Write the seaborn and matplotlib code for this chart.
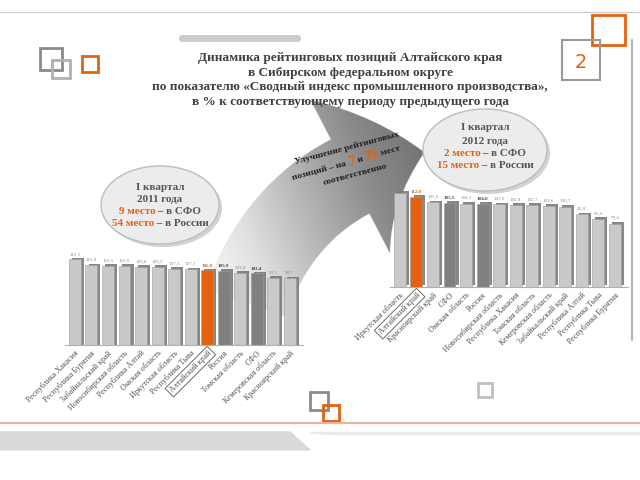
import numpy as np
import pandas as pd
import seaborn as sns
import matplotlib.pyplot as plt
from matplotlib.patches import Rectangle, Ellipse, FancyArrowPatch, FancyBboxPatch
from matplotlib.colors import LinearSegmentedColormap
import matplotlib.patheffects as pe

sns.set_style('white')
plt.rcParams['font.family'] = ['Liberation Serif', 'DejaVu Serif']

###############################################################################
# data
###############################################################################
left_regions = ['Республика Хакасия', 'Республика Бурятия', 'Забайкальский край',
                'Новосибирская область', 'Республика Алтай', 'Омская область',
                'Иркутская область', 'Республика Тыва', 'Алтайский край', 'Россия',
                'Томская область', 'СФО', 'Кемеровская область', 'Красноярский край']
left_values = [116.3, 110.9, 110.5, 110.0, 109.6, 109.2, 107.3, 107.1,
               106.0, 105.9, 103.9, 103.4, 99.2, 98.7]

right_regions = ['Иркутская область', 'Алтайский край', 'Красноярский край', 'СФО',
                 'Омская область', 'Россия', 'Новосибирская область', 'Республика Хакасия',
                 'Томская область', 'Кемеровская область', 'Забайкальский край',
                 'Республика Алтай', 'Республика Тыва', 'Республика Бурятия']
right_values = [117.7, 112.8, 105.9, 105.5, 104.5, 104.0, 103.6, 102.8,
                102.7, 101.6, 100.7, 90.8, 85.4, 79.4]

home = 'Алтайский край'
benchmarks = ['Россия', 'СФО']

title_lines = ['Динамика рейтинговых позиций Алтайского края',
               'в Сибирском федеральном округе',
               'по показателю «Сводный индекс промышленного производства»,',
               'в % к соответствующему периоду предыдущего года']

ORANGE = '#e2620f'
DARK = '#808080'
LIGHT = '#c9c9c9'
TXT = '#404040'

W, H = 640, 480
fig = plt.figure(figsize=(6.4, 4.8), dpi=100)


def fx(px):
    return px / W


def fy(py):
    return 1 - py / H


def rich_text(x, y, parts, angle=0):
    """parts: (text, color, size, weight); x, y = centre of the line in px"""
    renderer = fig.canvas.get_renderer()
    widths = []
    for s, c, fs, fw in parts:
        t = fig.text(0, 0, s, fontsize=fs, weight=fw)
        widths.append(t.get_window_extent(renderer).width)
        t.remove()
    total = sum(widths)
    a = np.radians(angle)
    x0, y0 = x, H - y
    cur = -total / 2
    for (s, c, fs, fw), w in zip(parts, widths):
        px, py = x0 + cur * np.cos(a), y0 + cur * np.sin(a)
        fig.text(px / W, py / H, s, fontsize=fs, weight=fw, color=c,
                 rotation=angle, rotation_mode='anchor', ha='left', va='center')
        cur += w


###############################################################################
# decoration of the slide
###############################################################################
deco = fig.add_axes([0, 0, 1, 1], zorder=-5)
deco.axis('off')
deco.axhline(12, color='#d0d0d0', lw=1)
deco.add_patch(FancyBboxPatch((180, 36), 120, 5, boxstyle='round,pad=1,rounding_size=3',
                              fc='#cccccc', ec='none'))
deco.plot([632, 632], [40, 340], color='#b5b5b5', lw=1.5)
deco.plot([0, 640], [423, 423], color='#e8b49a', lw=1.5)
deco.fill([0, 290, 310, 0], [432, 432, 450, 450], color='#d9d9d9')
deco.fill([310, 640, 640, 330], [432, 432, 434, 434], color='#e9e9e9')
sq = dict(fill=False, lw=2)
deco.add_patch(Rectangle((40, 48), 22, 22, ec='#8a8a8a', **sq))
deco.add_patch(Rectangle((52, 60), 18, 18, ec='#b0b0b0', **sq))
deco.add_patch(Rectangle((82, 56), 16, 16, ec=ORANGE, **sq))
deco.add_patch(Rectangle((592, 15), 33, 30, ec=ORANGE, **sq))
deco.add_patch(Rectangle((562, 40), 38, 40, ec='#9a9a9a', fill=False, lw=1.5))
deco.text(581, 62, '2', color=ORANGE, fontsize=14, ha='center', va='center',
          family='DejaVu Sans')
deco.add_patch(Rectangle((310, 392), 18, 18, ec='#8a8a8a', **sq))
deco.add_patch(Rectangle((323, 405), 16, 16, ec=ORANGE, **sq))
deco.add_patch(Rectangle((478, 383), 14, 14, ec='#c0c0c0', **sq))

# big curved arrow, shaded from white (tail) to grey (head)
arrow = FancyArrowPatch((245, 305), (427, 152), connectionstyle='arc3,rad=-0.3',
                        arrowstyle='simple,tail_width=3.0,head_width=6.2,head_length=2.8',
                        mutation_scale=20, fc='none', ec='#dddddd', lw=0.6)
deco.add_patch(arrow)
gx, gy = np.meshgrid(np.linspace(0, 1, 200), np.linspace(0, 1, 200))
shade = np.clip(0.8 * gx + 0.3 * (1 - gy), 0, 1)
arrow_cmap = LinearSegmentedColormap.from_list('arrow', ['#ffffff', '#e2e2e2', '#b4b4b4',
                                                         '#8a8a8a', '#707070'])
im = deco.imshow(shade, extent=[200, 440, 320, 80], cmap=arrow_cmap, aspect='auto',
                 origin='upper', zorder=1)
im.set_clip_path(arrow)

# bubbles
for cx, cy, w, h in [(160, 205, 118, 78), (485, 150, 124, 82)]:
    deco.add_patch(Ellipse((cx + 3, cy + 3), w, h, fc='#d2d2d2', ec='none', zorder=2))
    deco.add_patch(Ellipse((cx, cy), w, h, fc='#ececec', ec='#bdbdbd', lw=1, zorder=2))

deco.set_xlim(0, W)
deco.set_ylim(H, 0)

###############################################################################
# title and notes
###############################################################################
for i, line in enumerate(title_lines):
    fig.text(fx(350), fy(58 + i * 14.7), line, ha='center', va='center',
             fontsize=9.5, weight='bold', color=TXT)

fs_b = 8
rich_text(160, 187, [('I квартал', '#555555', fs_b, 'bold')])
rich_text(160, 200, [('2011 года', '#555555', fs_b, 'bold')])
rich_text(160, 212, [('9 место', ORANGE, fs_b, 'bold'), (' – в СФО', '#555555', fs_b, 'bold')])
rich_text(160, 224, [('54 место', ORANGE, fs_b, 'bold'), (' – в России', '#555555', fs_b, 'bold')])

rich_text(485, 128, [('I квартал', '#555555', fs_b, 'bold')])
rich_text(485, 141, [('2012 года', '#555555', fs_b, 'bold')])
rich_text(485, 154, [('2 место', ORANGE, fs_b, 'bold'), (' – в СФО', '#555555', fs_b, 'bold')])
rich_text(485, 166, [('15 место', ORANGE, fs_b, 'bold'), (' – в России', '#555555', fs_b, 'bold')])

ang = 15
rich_text(347, 148, [('Улучшение рейтинговых', '#202020', 6.8, 'bold')], angle=ang)
rich_text(346, 163, [('позиций – на ', '#202020', 6.8, 'bold'), ('7', ORANGE, 10, 'bold'),
                     (' и ', '#202020', 6.8, 'bold'), ('39', ORANGE, 10, 'bold'),
                     (' мест', '#202020', 6.8, 'bold')], angle=ang)
rich_text(355, 175, [('соответственно', '#202020', 6.8, 'bold')], angle=ang)


###############################################################################
# the two bar charts
###############################################################################
def bar_colors(regions):
    pal = {}
    for r in regions:
        pal[r] = ORANGE if r == home else (DARK if r in benchmarks else LIGHT)
    return pal


def draw_chart(rect, regions, values, ylim):
    ax = fig.add_axes(rect)
    df = pd.DataFrame({'region': regions, 'value': values})
    sns.barplot(data=df, x='region', y='value', hue='region', palette=bar_colors(regions),
                legend=False, width=0.72, ax=ax, saturation=1, edgecolor='#9c9c9c',
                linewidth=0.4)
    for p in ax.patches:
        p.set_path_effects([pe.SimplePatchShadow(offset=(2.2, 1.2), shadow_rgbFace='#7a7a7a',
                                                 alpha=0.9), pe.Normal()])
    ax.set_ylim(*ylim)
    ax.set_xlim(-0.6, len(regions) - 0.2)
    ax.set_xlabel('')
    ax.set_ylabel('')
    ax.set_yticks([])
    sns.despine(ax=ax, left=True)
    ax.spines['bottom'].set_color('#b0b0b0')
    ax.patch.set_alpha(0)
    ax.tick_params(axis='x', length=2, color='#999999', pad=1)
    ax.set_xticks(range(len(regions)))
    ax.set_xticklabels(regions, rotation=45, ha='right', rotation_mode='anchor',
                       fontsize=5.8, color='#555555')
    for lab in ax.get_xticklabels():
        if lab.get_text() == home:
            lab.set_bbox(dict(boxstyle='square,pad=0.25', fc='white', ec='#555555', lw=0.6))
    for i, (r, v) in enumerate(zip(regions, values)):
        c = ORANGE if r == home else ('#444444' if r in benchmarks else '#8a8a8a')
        w = 'bold' if (r == home or r in benchmarks) else 'normal'
        ax.text(i, v + (ylim[1] - ylim[0]) * 0.03, f'{v:.1f}'.replace('.', ','),
                ha='center', va='bottom', fontsize=3.6, color=c, weight=w)
    return ax


draw_chart([fx(65), fy(345), fx(238), fy(250) - fy(345)], left_regions, left_values,
           (36.7, 125))
draw_chart([fx(390), fy(287), fx(238), fy(180) - fy(287)], right_regions, right_values,
           (0, 134))

fig.savefig('out.png', dpi=100)
